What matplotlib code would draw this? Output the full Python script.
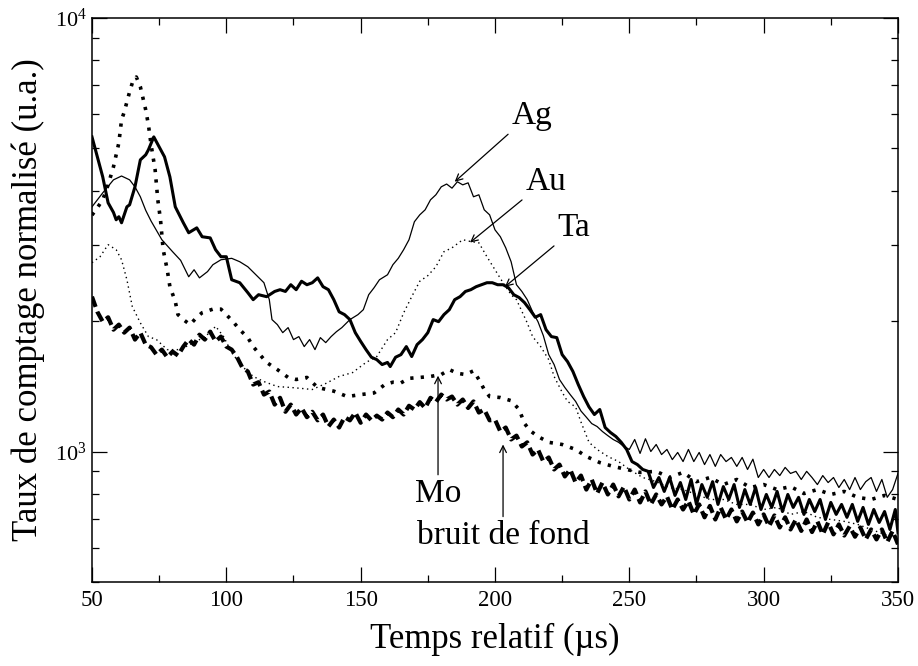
import numpy as np
import matplotlib
matplotlib.use('Agg')
import matplotlib.pyplot as plt
from matplotlib.ticker import MultipleLocator, FixedLocator, LogLocator, NullFormatter, LogFormatterMathtext

plt.rcParams['font.family'] = 'Liberation Serif'
plt.rcParams['mathtext.fontset'] = 'custom'
plt.rcParams['mathtext.rm'] = 'Liberation Serif'

# Ag : trait fin continu
t_ag = [50, 52, 54, 58, 61, 64, 66, 68, 70, 72, 76, 80, 83, 86, 88, 90, 93, 95, 98, 102,
        105, 108, 111, 114, 116, 117, 119, 121, 123, 125, 127, 129, 131, 133, 135, 137, 139, 141, 143, 146,
        149, 151, 153, 155, 157, 160, 162, 164, 166, 168, 170, 172, 174, 176, 178, 180, 182, 184, 186, 188,
        190, 192, 194, 196, 198, 200, 202, 204, 206, 208, 210, 212, 214, 216, 218, 220, 222, 224, 226, 228,
        230, 232, 234, 236, 238, 240, 242, 244, 246, 248, 250,
        252, 254, 256, 258, 260, 262, 264, 266, 268, 270, 272, 274, 276, 278, 280, 282, 284, 286, 288, 290,
        292, 294, 296, 298, 300, 302, 304, 306, 308, 310, 312, 314, 316, 318, 320, 322, 324, 326, 328, 330,
        332, 334, 336, 338, 340, 342, 344, 346, 348, 350]
v_ag = [3668, 3807, 3950, 4233, 4320, 4233, 4079, 3869, 3600, 3400, 3080, 2890, 2760, 2530, 2626, 2515, 2600, 2697, 2769, 2790,
        2740, 2668, 2557, 2451, 2240, 2015, 1962, 1880, 1931, 1812, 1841, 1746, 1812, 1718, 1831, 1783, 1841, 1890, 1931, 2015,
        2069, 2124, 2300, 2387, 2490, 2557, 2697, 2790, 2921, 3080, 3388, 3515, 3610, 3807, 3910, 4079, 4140, 4050, 4190, 4122,
        4166, 3869, 3910, 3610, 3515, 3246, 3129, 2950, 2740, 2425, 2340, 2240, 2100, 1993, 1850, 1673, 1587, 1466, 1405, 1353,
        1305, 1240, 1200, 1160, 1142, 1112, 1088, 1066, 1050, 1027, 1011,
        1066, 990, 1070, 1000, 1038, 984, 1011, 958, 995, 948, 1011, 948, 995, 933, 984, 924, 984, 948, 969, 924,
        969, 909, 960, 871, 909, 871, 909, 880, 919, 890, 900, 862, 900, 871, 839, 880, 848, 871, 826, 862,
        817, 871, 817, 852, 871, 809, 862, 784, 817, 890]

# Au : trait fin pointillé
t_au = [50, 53, 56, 59, 61, 63, 65, 68, 71, 74, 78, 82, 85, 90, 94, 96, 99, 102, 106, 110,
        114, 119, 124, 128, 132, 137, 142, 147, 152, 156, 160, 163, 166, 169, 172, 175, 178, 181, 184, 188,
        191, 194, 197, 200, 203, 206, 208, 212, 214, 217, 220, 222, 225, 227, 230, 232, 235, 238, 242, 246,
        250, 255, 260, 265, 270, 275, 280, 285, 290, 295, 300, 305, 310, 315, 320, 325, 330, 335, 340, 345, 350]
v_au = [2726, 2814, 3000, 2921, 2769, 2490, 2160, 1980, 1841, 1812, 1718, 1718, 1746, 1812, 1880, 1945, 1841, 1690, 1570, 1490,
        1450, 1412, 1405, 1398, 1390, 1435, 1490, 1521, 1605, 1656, 1812, 1880, 2088, 2276, 2470, 2545, 2668, 2890, 2950, 3080,
        3050, 3030, 2814, 2626, 2451, 2300, 2240, 1980, 1841, 1746, 1629, 1490, 1370, 1305, 1267, 1170, 1050, 1011, 974, 948,
        909, 871, 852, 826, 817, 796, 775, 775, 755, 755, 735, 743, 716, 727, 705, 697, 690, 679, 661, 644, 627]

# Ta : trait épais continu
t_ta = [50, 52, 54, 56, 58, 59, 60, 61, 63, 64, 66, 68, 70, 71, 73, 75, 77, 79, 81, 84,
        86, 89, 91, 94, 96, 98, 100, 102, 105, 108, 110, 112, 115, 118, 120, 122, 124, 126, 128, 130,
        132, 134, 136, 138, 140, 142, 144, 146, 148, 150, 152, 154, 156, 158, 160, 161, 163, 165, 167, 169,
        171, 173, 175, 177, 179, 181, 183, 185, 187, 189, 191, 193, 195, 197, 199, 201, 203, 205, 207, 209,
        211, 213, 215, 217, 219, 221, 223, 225, 227, 229, 231, 233, 235, 237, 239, 241, 243, 245, 247, 249,
        251, 253, 255, 257, 259, 261, 263, 265, 267, 269, 271, 273, 275, 277, 279, 281, 283, 285, 287, 289,
        291, 293, 295, 297, 299, 301, 303, 305, 307, 309, 311, 313, 315, 317, 319, 321, 323, 325, 327, 329,
        331, 333, 335, 337, 339, 341, 343, 345, 347, 349, 350]
v_ta = [5318, 4783, 4300, 3747, 3560, 3424, 3480, 3370, 3668, 3707, 4079, 4707, 4835, 4965, 5318, 5044, 4783, 4300, 3668, 3370,
        3196, 3280, 3129, 3110, 2921, 2814, 2814, 2490, 2451, 2325, 2240, 2300, 2276, 2340, 2362, 2340, 2425, 2362, 2470, 2425,
        2451, 2515, 2400, 2362, 2240, 2100, 2069, 2015, 1880, 1795, 1718, 1650, 1629, 1587, 1605, 1570, 1650, 1673, 1746, 1656,
        1764, 1812, 1880, 2015, 1993, 2069, 2124, 2240, 2276, 2340, 2362, 2400, 2425, 2451, 2451, 2425, 2425, 2387, 2300, 2265,
        2205, 2124, 2040, 2069, 1910, 1841, 1831, 1673, 1612, 1530, 1427, 1339, 1267, 1217, 1250, 1136, 1106, 1083, 1050, 1011,
        948, 933, 909, 900, 826, 871, 809, 871, 792, 848, 775, 862, 755, 839, 784, 852, 755, 830, 775, 839,
        743, 817, 755, 826, 735, 796, 743, 809, 727, 796, 743, 784, 716, 775, 727, 775, 697, 763, 716, 755,
        705, 755, 690, 743, 679, 735, 686, 727, 661, 735, 650]

# Mo : trait épais pointillé
t_mo = [50, 52, 54, 56, 58, 60, 61, 62, 64, 65, 66.5, 68, 70, 71, 72, 73.5, 74.5, 75.5, 76.5, 78,
        79, 81, 82, 84, 86.5, 89, 91, 95, 98, 100, 102.5, 105, 108, 110, 112.5, 115, 119, 123, 126, 130,
        134, 140, 145, 150, 155, 159, 162, 165, 168, 172, 176, 180, 183, 186, 189, 192, 194, 196, 198, 202,
        206, 209, 211, 213, 216, 220, 225, 230, 234, 239, 244, 249, 254, 260, 265, 270, 275, 280, 285, 290,
        295, 300, 305, 310, 315, 320, 325, 330, 335, 340, 345, 350]
v_mo = [3510, 3650, 3807, 4122, 4537, 5152, 5820, 6070, 6754, 7080, 7310, 6940, 6137, 5670, 5100, 4465, 3807, 3424, 2921, 2626,
        2400, 2220, 2069, 2015, 1962, 2040, 2090, 2130, 2130, 2069, 1993, 1910, 1831, 1746, 1673, 1605, 1545, 1482, 1466, 1482,
        1405, 1378, 1339, 1353, 1365, 1427, 1445, 1440, 1475, 1482, 1490, 1505, 1545, 1515, 1505, 1535, 1466, 1390, 1339, 1332,
        1310, 1250, 1160, 1118, 1083, 1050, 1038, 1011, 974, 943, 924, 909, 895, 900, 871, 895, 852, 871, 839, 862,
        826, 839, 817, 830, 800, 817, 796, 809, 784, 775, 792, 775]

# bruit de fond : trait épais tireté
t_bf = list(range(50, 351, 2))
v_bf = [2276, 2100, 1993, 2040, 1910, 1962, 1880, 1931, 1812, 1880, 1764, 1740, 1673, 1718, 1650, 1700, 1665, 1746, 1812, 1764,
        1860, 1812, 1890, 1795, 1841, 1746, 1718, 1650, 1560, 1530, 1427, 1445, 1353, 1375, 1283, 1330, 1235, 1283, 1217, 1260,
        1200, 1235, 1180, 1217, 1142, 1185, 1136, 1200, 1180, 1230, 1165, 1217, 1180, 1210, 1185, 1230, 1200, 1250, 1217, 1275,
        1250, 1300, 1260, 1330, 1300, 1353, 1318, 1339, 1283, 1318, 1260, 1305, 1230, 1250, 1180, 1185, 1112, 1136, 1066, 1088,
        1027, 1050, 984, 1011, 948, 969, 909, 933, 876, 909, 848, 880, 817, 862, 800, 848, 796, 839, 788, 830,
        775, 817, 763, 809, 755, 796, 755, 788, 735, 775, 735, 769, 716, 755, 705, 749, 697, 743, 697, 735,
        690, 727, 686, 723, 679, 716, 672, 712, 668, 705, 661, 697, 656, 697, 652, 690, 644, 686, 644, 679,
        640, 672, 636, 668, 627, 661, 627, 661, 618, 656, 611]

# annotations : texte, pointe de la flèche, position du texte
ann_text = ['Ag', 'Au', 'Ta', 'Mo', 'bruit de fond']
ann_xy = [(185, 4190), (190.7, 3034), (203.7, 2399), (178.8, 1496), (203, 1038)]
ann_txt_xy = [(206.3, 5699), (211.5, 4015), (223.4, 3146), (178.8, 763), (203, 611)]

fig = plt.figure(figsize=(9.18, 6.66), dpi=100)
ax = fig.add_axes([0.1002, 0.1261, 0.8780, 0.8469])

ax.plot(t_ag, v_ag, color='black', lw=0.9)
ax.plot(t_au, v_au, color='black', lw=1.0, linestyle=(0, (1, 2.5)))
ax.plot(t_ta, v_ta, color='black', lw=2.2)
ax.plot(t_mo, v_mo, color='black', lw=2.6, linestyle=(0, (0.9, 2.0)))
ax.plot(t_bf, v_bf, color='black', lw=3.0, linestyle=(0, (2.6, 1.2)))

ax.set_yscale('log')
ax.set_xlim(50, 350)
ax.set_ylim(500, 10000)

ax.xaxis.set_major_locator(MultipleLocator(50))
ax.xaxis.set_minor_locator(MultipleLocator(25))
ax.yaxis.set_major_locator(FixedLocator([1e3, 1e4]))
ax.yaxis.set_major_formatter(LogFormatterMathtext())
ax.yaxis.set_minor_locator(LogLocator(base=10, subs=np.arange(2, 10)))
ax.yaxis.set_minor_formatter(NullFormatter())

ax.tick_params(which='both', direction='in', top=True, right=True, width=0.9)
ax.tick_params(which='major', length=11)
ax.tick_params(which='minor', length=5)
ax.tick_params(axis='x', labelsize=16.5, pad=6)
ax.tick_params(axis='y', labelsize=16, pad=4)
for s in ax.spines.values():
    s.set_linewidth(1.1)

ax.set_xlabel('Temps relatif (µs)', fontsize=25, labelpad=8)
ax.set_ylabel('Taux de comptage normalisé (u.a.)', fontsize=25)
ax.yaxis.set_label_coords(-0.058, 0.5)

for i, lab in enumerate(ann_text):
    if i < 3:
        ha, va, rp = 'left', 'baseline', (0, 0)
    else:
        ha, va, rp = 'center', 'baseline', (0.5, 1)
    ax.annotate(lab, xy=ann_xy[i], xytext=ann_txt_xy[i], fontsize=24, ha=ha, va=va,
                arrowprops=dict(arrowstyle='->', color='black', lw=0.9, relpos=rp,
                                shrinkA=1, shrinkB=0, mutation_scale=12))

fig.savefig('out.png', dpi=100)
